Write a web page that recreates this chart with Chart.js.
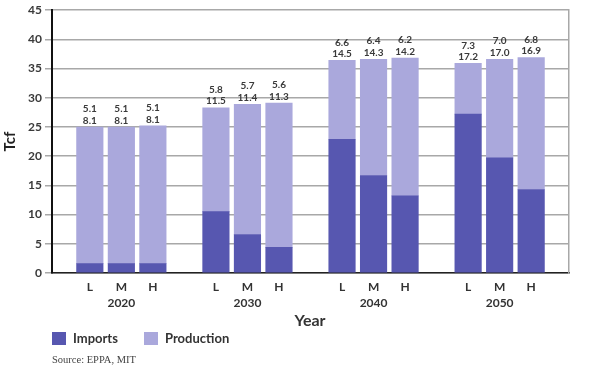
<!DOCTYPE html>
<html>
<head>
<meta charset="utf-8">
<script src="https://cdn.jsdelivr.net/npm/chart.js@4.4.1/dist/chart.umd.min.js"></script>
<style>
  html, body { margin: 0; padding: 0; background: #ffffff; }
  #wrap { position: relative; width: 590px; height: 375px; overflow: hidden; }
  canvas { position: absolute; left: 0; top: 0; }
  .txt { position: absolute; white-space: nowrap; color: #333333; }
  #xtitle { font: bold 16px Lato, "Open Sans", sans-serif; left: 310px; top: 319px; transform: translate(-50%, -50%); }
  .sw { position: absolute; width: 14px; height: 13px; }
  .lg { font: bold 13px Lato, "Open Sans", sans-serif; transform: translateY(-50%); }
  #source { font: 10.5px "Liberation Serif", "DejaVu Serif", serif; left: 52px; top: 359px; transform: translateY(-50%); color: #444; }
</style>
</head>
<body>
<div id="wrap">
  <canvas id="c" width="590" height="375"></canvas>
  <div class="txt" id="xtitle">Year</div>
  <div class="sw" style="left:52px; top:332px; background:#5757b0"></div>
  <div class="txt lg" style="left:73px; top:338px">Imports</div>
  <div class="sw" style="left:144px; top:332px; background:#aaa8dc"></div>
  <div class="txt lg" style="left:165px; top:338px">Production</div>
  <div class="txt" id="source">Source: EPPA, MIT</div>
</div>
<script>
// ---- data ----
const years = ['2020', '2030', '2040', '2050'];
const scenarios = ['L', 'M', 'H'];
const imports = [1.6, 1.6, 1.6, 10.5, 6.6, 4.4, 22.9, 16.7, 13.2, 27.2, 19.7, 14.3];
const production = [23.4, 23.4, 23.6, 17.8, 22.3, 24.7, 13.5, 19.9, 23.6, 8.7, 16.9, 22.6];
const labelTop = ['5.1', '5.1', '5.1', '5.8', '5.7', '5.6', '6.6', '6.4', '6.2', '7.3', '7.0', '6.8'];
const labelBottom = ['8.1', '8.1', '8.1', '11.5', '11.4', '11.3', '14.5', '14.3', '14.2', '17.2', '17.0', '16.9'];
const yTicks = [0, 5, 10, 15, 20, 25, 30, 35, 40, 45];

// positions on x axis: groups separated by one empty slot
const xPos = [];
const xLabels = [];
years.forEach((yr, g) => {
  scenarios.forEach((s, b) => {
    xPos.push(g * 4 + b);
    xLabels.push(b === 1 ? [s, yr] : s);
  });
});

const FONT = 'Lato, "Open Sans", sans-serif';
const GRID = '#a8a8a8';

const barLabels = {
  id: 'barLabels',
  afterDatasetsDraw(chart) {
    const meta = chart.getDatasetMeta(1);
    const ctx = chart.ctx;
    ctx.save();
    ctx.font = 'bold 10px ' + FONT;
    ctx.fillStyle = '#3a3a3a';
    ctx.textAlign = 'center';
    ctx.textBaseline = 'middle';
    meta.data.forEach((el, i) => {
      ctx.fillText(labelBottom[i], el.x, el.y - 6.5);
      ctx.fillText(labelTop[i], el.x, el.y - 18);
    });
    ctx.restore();
  }
};

new Chart(document.getElementById('c'), {
  type: 'bar',
  data: {
    datasets: [
      { label: 'Imports', data: xPos.map((x, i) => ({ x: x, y: imports[i] })), backgroundColor: '#5757b0', borderWidth: 0, barThickness: 26.5 },
      { label: 'Production', data: xPos.map((x, i) => ({ x: x, y: production[i] })), backgroundColor: '#aaa8dc', borderWidth: 0, barThickness: 26.5 }
    ]
  },
  options: {
    responsive: false,
    animation: false,
    devicePixelRatio: 1,
    layout: { padding: { top: 6, right: 21, bottom: 0, left: 0 } },
    plugins: { legend: { display: false }, tooltip: { enabled: false } },
    scales: {
      x: {
        type: 'linear',
        stacked: true,
        offset: false,
        min: -1.2,
        max: 15.2,
        afterBuildTicks(scale) { scale.ticks = xPos.map(v => ({ value: v })); },
        afterFit(scale) { scale.height = 102; },
        grid: { display: true, color: 'transparent', drawTicks: false, offset: false },
        border: { display: true, color: '#222222', width: 1.5 },
        ticks: {
          autoSkip: false, maxRotation: 0, padding: 6,
          color: '#333333',
          font: { family: FONT, size: 12, weight: 'bold', lineHeight: 1.35 },
          callback(value, index) { return xLabels[index]; }
        }
      },
      y: {
        stacked: true,
        min: 0, max: 45,
        afterBuildTicks(scale) { scale.ticks = yTicks.map(v => ({ value: v })); },
        afterFit(scale) { scale.width = 52; },
        grid: { color: GRID, lineWidth: 1.5, tickLength: 7, tickColor: GRID },
        border: { display: true, color: '#111111', width: 2 },
        ticks: { padding: 3, color: '#3a3a3a', font: { family: FONT, size: 12, weight: 'bold' } },
        title: { display: true, text: 'Tcf', color: '#222222', font: { family: FONT, size: 15, weight: 'bold' }, padding: { top: 1, bottom: 0 } }
      },
      y2: {
        position: 'right',
        min: 0, max: 45,
        afterFit(scale) { scale.width = 0; },
        grid: { display: false },
        ticks: { display: false },
        border: { display: true, color: GRID, width: 1.5 }
      }
    }
  },
  plugins: [barLabels]
});
</script>
</body>
</html>
